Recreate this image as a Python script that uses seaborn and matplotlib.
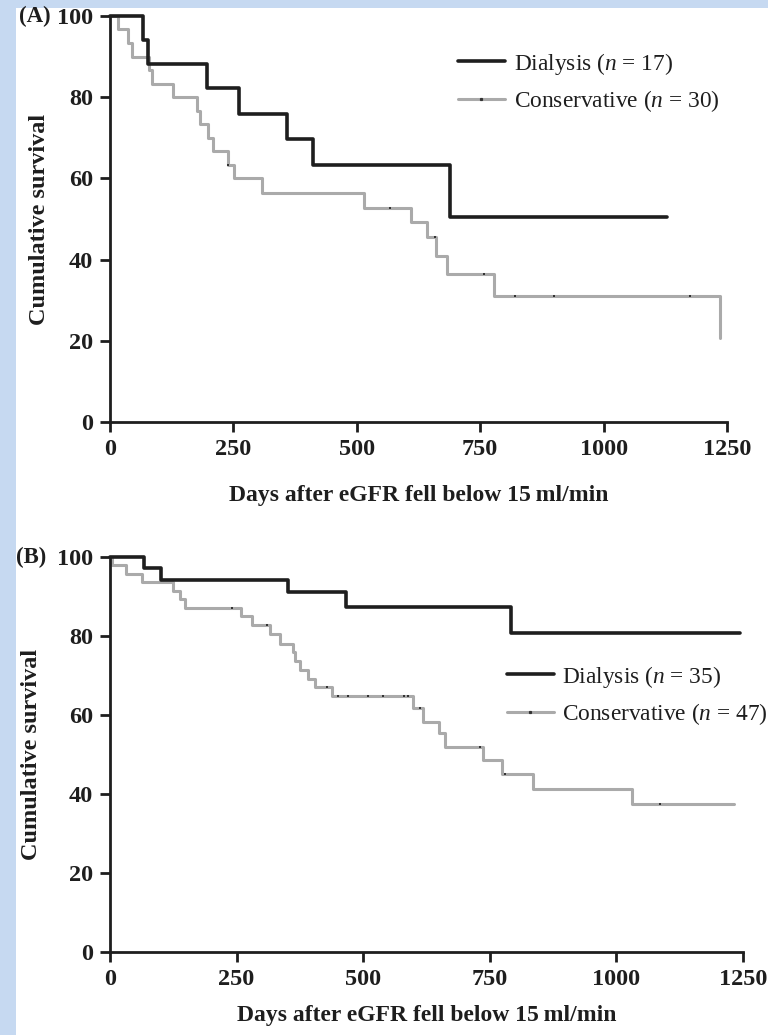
import matplotlib
matplotlib.use("Agg")
import matplotlib.pyplot as plt
from matplotlib.lines import Line2D
from matplotlib.patches import Rectangle
import seaborn as sns

# (A) survival after eGFR fell below 15 ml/min
a_dial_days = [0, 67, 77, 197, 262, 358, 412, 689, 1129]
a_dial_surv = [100, 94.1, 88.2, 82.2, 75.8, 69.6, 63.2, 50.5, 50.5]
a_cons_days = [0, 17, 36, 44, 78, 86, 127, 176, 182, 199, 209, 239, 252, 307,
               515, 610, 642, 661, 683, 778, 1236]
a_cons_surv = [100, 96.7, 93.3, 90.0, 86.7, 83.3, 80.0, 76.7, 73.3, 70.0, 66.7,
               63.3, 60.0, 56.3, 52.8, 49.3, 45.5, 41.0, 36.5, 31.0, 20.7]
a_cens_days = [240, 568, 659, 758, 821, 900, 1176]
a_cens_surv = [63.3, 52.8, 45.5, 36.5, 31.0, 31.0, 31.0]
a_labels = ["Dialysis ($n$ = 17)", "Conservative ($n$ = 30)"]

# (B)
b_dial_days = [0, 67, 101, 352, 466, 792, 1244]
b_dial_surv = [100, 97.1, 94.2, 91.2, 87.3, 80.8, 80.8]
b_cons_days = [0, 3, 32, 63, 124, 138, 148, 258, 281, 315, 336, 362, 365, 375,
               391, 405, 438, 598, 618, 650, 662, 737, 774, 835, 1031, 1232]
b_cons_surv = [100, 97.9, 95.7, 93.6, 91.5, 89.4, 87.2, 85.0, 82.7, 80.4, 78.1,
               76.0, 73.7, 71.4, 69.2, 67.0, 64.7, 61.8, 58.2, 55.4, 51.9, 48.6,
               45.1, 41.3, 37.5, 37.5]
b_cens_days = [240, 310, 428, 450, 470, 510, 539, 581, 589, 612, 731, 780, 1086]
b_cens_surv = [87.2, 82.7, 67.0, 64.7, 64.7, 64.7, 64.7, 64.7, 64.7, 61.8,
               51.9, 45.1, 37.5]
b_labels = ["Dialysis ($n$ = 35)", "Conservative ($n$ = 47)"]

x_ticks = [0, 250, 500, 750, 1000, 1250]
y_ticks = [0, 20, 40, 60, 80, 100]

sns.set_theme(style="ticks")
plt.rcParams["font.family"] = ["Liberation Serif", "DejaVu Serif"]
plt.rcParams["mathtext.fontset"] = "custom"
plt.rcParams["mathtext.rm"] = "Liberation Serif"
plt.rcParams["mathtext.it"] = "Liberation Serif:italic"

dark = "#1e1e1e"
grey = "#aaaaaa"
blue = "#c6d9f1"

fig = plt.figure(figsize=(7.68, 10.35), dpi=100, facecolor=blue)
fig.patches.append(Rectangle((16 / 768, 0), 1, 1 - 8 / 1035, transform=fig.transFigure,
                             facecolor="white", edgecolor="none", zorder=-1))

axA = fig.add_axes([110 / 768, 1 - 422 / 1035, 617 / 768, 406 / 1035])
axB = fig.add_axes([110 / 768, 1 - 952 / 1035, 633 / 768, 395 / 1035])


def km_panel(ax, dd, ds, cd, cs, xd, xs, labels, leg_xy, ylab_x, xlab_y):
    ax.set_facecolor("none")
    sns.lineplot(x=cd, y=cs, drawstyle="steps-post", color=grey, linewidth=2.2,
                 estimator=None, ax=ax, clip_on=False, zorder=2)
    sns.scatterplot(x=xd, y=xs, marker="s", s=2, linewidth=0, color="#333333",
                    ax=ax, clip_on=False, zorder=3)
    sns.lineplot(x=dd, y=ds, drawstyle="steps-post", color=dark, linewidth=2.6,
                 estimator=None, ax=ax, clip_on=False, zorder=4)
    ax.set_xlim(0, 1250)
    ax.set_ylim(0, 100)
    ax.set_xticks(x_ticks)
    ax.set_yticks(y_ticks)
    sns.despine(ax=ax)
    for s in ["left", "bottom"]:
        ax.spines[s].set_linewidth(2.0)
        ax.spines[s].set_color(dark)
    ax.tick_params(length=7, width=2.0, color=dark, pad=5, labelsize=17.5,
                   labelcolor=dark)
    for lab in ax.get_xticklabels() + ax.get_yticklabels():
        lab.set_fontweight("bold")
    ax.set_xlabel("Days after eGFR fell below 15\u2009ml/min", fontsize=17,
                  fontweight="bold", color=dark)
    ax.set_ylabel("Cumulative survival", fontsize=17.5, fontweight="bold", color=dark)
    ax.xaxis.set_label_coords(0.5, xlab_y)
    ax.yaxis.set_label_coords(ylab_x, 0.5)
    handles = [Line2D([], [], color=dark, lw=2.6),
               Line2D([], [], color=grey, lw=2.2, marker="s", markersize=1.3,
                      markerfacecolor="#333333", markeredgecolor="#333333")]
    ax.legend(handles, labels, loc="upper left", bbox_to_anchor=leg_xy,
              frameon=False, fontsize=16.8, handlelength=2.0, handletextpad=0.38,
              labelspacing=0.5, borderpad=0, borderaxespad=0, numpoints=1,
              labelcolor=dark)


km_panel(axA, a_dial_days, a_dial_surv, a_cons_days, a_cons_surv,
         a_cens_days, a_cens_surv, a_labels, (0.564, 0.915), -0.098, -0.155)
km_panel(axB, b_dial_days, b_dial_surv, b_cons_days, b_cons_surv,
         b_cens_days, b_cens_surv, b_labels, (0.627, 0.73), -0.108, -0.135)

fig.text(19 / 768, 1 - 16 / 1035, "(A)", fontsize=16.5, fontweight="bold",
         va="center", ha="left", color=dark)
fig.text(16 / 768, 1 - 557 / 1035, "(B)", fontsize=16.5, fontweight="bold",
         va="center", ha="left", color=dark)

fig.savefig("out.png", dpi=100, facecolor=fig.get_facecolor())
